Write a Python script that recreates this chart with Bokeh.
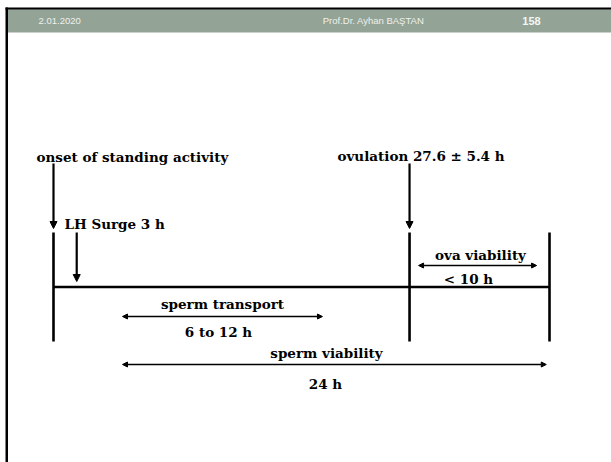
from bokeh.plotting import figure
from bokeh.models import Range1d, ColumnDataSource, Arrow, NormalHead
from bokeh.core.properties import value
from bokeh.embed import file_html
from bokeh.resources import INLINE

# ---- data (hours on the breeding timeline, as drawn) ----
event_names = ["onset of standing activity", "LH surge", "ovulation", "end of ova viability"]
event_hours = [0.0, 1.8, 27.6, 38.45]

sperm_transport_hours = [5.35, 20.85]
sperm_viability_hours = [5.35, 38.2]
ova_viability_hours = [28.3, 37.45]

label_texts = ["onset of standing activity", "LH Surge 3 h", "ovulation 27.6 \u00b1 5.4 h"]
span_titles = ["sperm transport", "sperm viability", "ova viability"]
span_values = ["6 to 12 h", "24 h", "< 10 h"]

header_left = "2.01.2020"
header_mid = "Prof.Dr. Ayhan BAŞTAN"
header_page = "158"

# ---- layout ----
W, H = 611, 462
PX_PER_H = 12.9
ORIGIN_PX = 53.0
x_start = -ORIGIN_PX / PX_PER_H
x_end = (W - ORIGIN_PX) / PX_PER_H


def xs(px):
    return x_start + px / PX_PER_H


p = figure(width=W, height=H, output_backend="svg", toolbar_location=None,
           x_range=Range1d(x_start, x_end), y_range=Range1d(H, 0),
           min_border=0, outline_line_color=None, background_fill_color="white",
           border_fill_color="white")
p.xaxis.visible = False
p.yaxis.visible = False
p.grid.visible = False

# slide frame + header
p.quad(left=[xs(5)], right=[x_end], top=[7], bottom=[9.3], fill_color="black", line_color=None)
p.quad(left=[xs(7.5)], right=[x_end], top=[9.3], bottom=[32], fill_color="#93a395", line_color=None)
p.quad(left=[xs(5)], right=[xs(7.5)], top=[7], bottom=[H], fill_color="black", line_color=None)

hdr_font = value("Liberation Sans")
p.text(x=[xs(38)], y=[20], text=[header_left], text_font=hdr_font, text_font_size="9.5px",
       text_color="#eef1ee", text_baseline="middle", text_align="left")
p.text(x=[xs(373)], y=[20], text=[header_mid], text_font=hdr_font, text_font_size="9.5px",
       text_color="#eef1ee", text_baseline="middle", text_align="center")
p.text(x=[xs(531)], y=[20], text=[header_page], text_font=hdr_font, text_font_size="11px",
       text_font_style="bold", text_color="#f4f6f4", text_baseline="middle", text_align="center")

# diagram levels (pixels from the top)
Y_ARROW_TOP = 163
Y_ARROW_BOT = 228
Y_VTOP = 232
Y_VBOT = 341
Y_MAIN = 286.5
LW = 2.6

onset_h, lh_h, ovul_h, end_h = event_hours

# main horizontal timeline
p.line(x=[onset_h, end_h], y=[Y_MAIN, Y_MAIN], line_color="black", line_width=LW)
# vertical marks
for t in (onset_h, ovul_h, end_h):
    p.line(x=[t, t], y=[Y_VTOP, Y_VBOT], line_color="black", line_width=LW)

# down arrows
for t, y0, y1 in ((onset_h, Y_ARROW_TOP, Y_ARROW_BOT), (ovul_h, Y_ARROW_TOP, Y_ARROW_BOT),
                  (lh_h, Y_VTOP, 281)):
    p.add_layout(Arrow(x_start=t, y_start=y0, x_end=t, y_end=y1, line_width=2.2,
                       end=NormalHead(size=7, fill_color="black", line_color="black")))


def span_arrow(hours, y):
    p.add_layout(Arrow(x_start=hours[0], y_start=y, x_end=hours[1], y_end=y, line_width=1.4,
                       start=NormalHead(size=5, fill_color="black", line_color="black"),
                       end=NormalHead(size=5, fill_color="black", line_color="black")))


span_arrow(sperm_transport_hours, 316)
span_arrow(sperm_viability_hours, 364)
span_arrow(ova_viability_hours, 265)

serif = value("DejaVu Serif")
FS = "13.5px"

# event labels
lab = ColumnDataSource(dict(x=[xs(36), xs(64), xs(337)], y=[156, 223, 155], text=label_texts))
p.text(x="x", y="y", text="text", source=lab, text_font=serif, text_font_size=FS,
       text_font_style="bold", text_color="black", text_baseline="middle", text_align="left")

# span labels
span_src = ColumnDataSource(dict(
    x=[xs(222), xs(326), xs(480), xs(218), xs(325), xs(468)],
    y=[303, 352, 254, 331, 383, 278],
    text=span_titles + span_values))
p.text(x="x", y="y", text="text", source=span_src, text_font=serif, text_font_size=FS,
       text_font_style="bold", text_color="black", text_baseline="middle", text_align="center")

open("out.html", "w").write(file_html(p, INLINE))
